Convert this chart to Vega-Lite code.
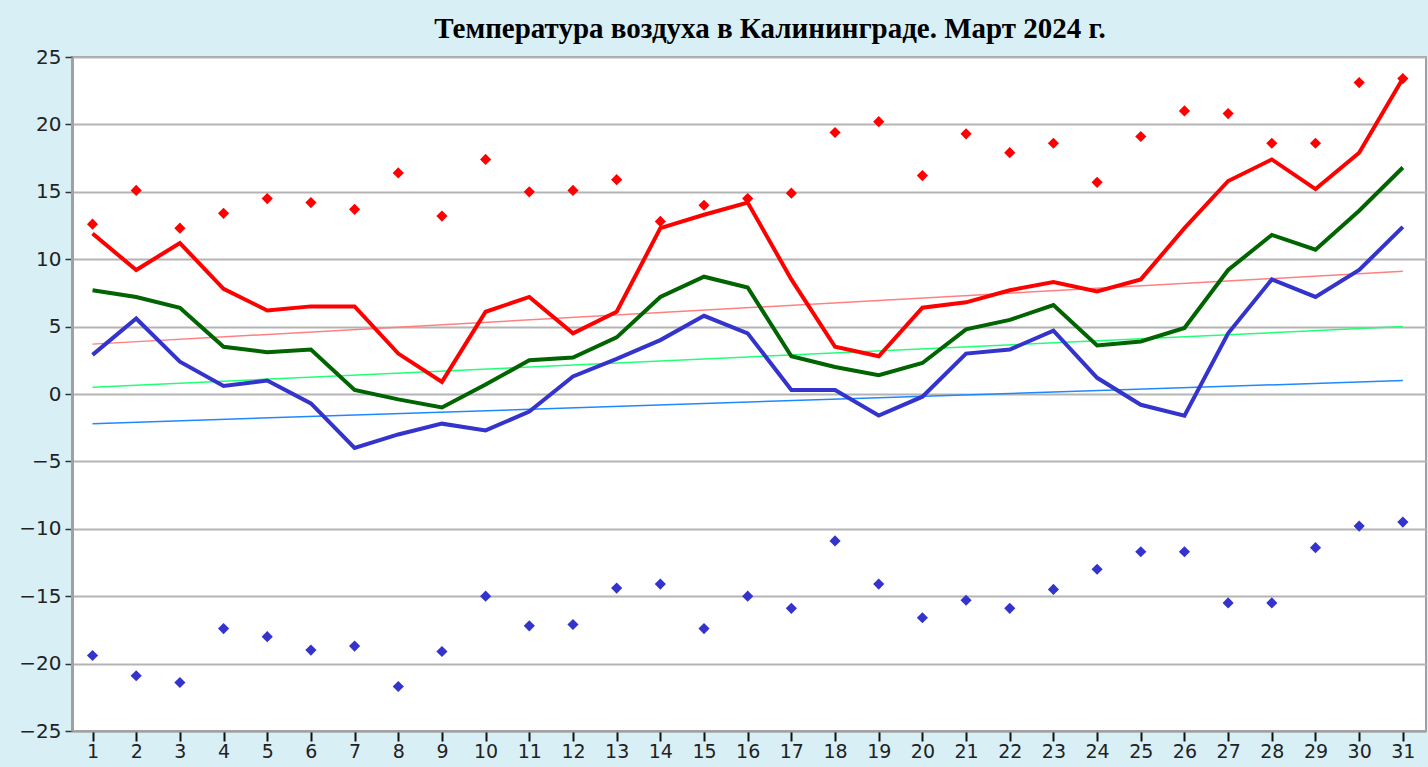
{
  "$schema": "https://vega.github.io/schema/vega-lite/v6.json",
  "autosize": {"type": "none"},
  "padding": {"left": 72, "top": 57, "right": 2, "bottom": 36},
  "width": 1354,
  "height": 674,
  "background": "#d9eff6",
  "title": {
    "text": "Температура воздуха в Калининграде. Март 2024 г.",
    "font": "Liberation Serif",
    "fontSize": 29,
    "fontWeight": "bold",
    "color": "#000000",
    "anchor": "middle",
    "frame": "group",
    "dx": 21,
    "offset": 3
  },
  "datasets": {
    "daily": [
      {"day": 1, "tmax": 11.9, "tmean": 7.7, "tmin": 2.9, "rmax": 12.6, "rmin": -19.4},
      {"day": 2, "tmax": 9.2, "tmean": 7.2, "tmin": 5.6, "rmax": 15.1, "rmin": -20.9},
      {"day": 3, "tmax": 11.2, "tmean": 6.4, "tmin": 2.4, "rmax": 12.3, "rmin": -21.4},
      {"day": 4, "tmax": 7.8, "tmean": 3.5, "tmin": 0.6, "rmax": 13.4, "rmin": -17.4},
      {"day": 5, "tmax": 6.2, "tmean": 3.1, "tmin": 1.0, "rmax": 14.5, "rmin": -18.0},
      {"day": 6, "tmax": 6.5, "tmean": 3.3, "tmin": -0.7, "rmax": 14.2, "rmin": -19.0},
      {"day": 7, "tmax": 6.5, "tmean": 0.3, "tmin": -4.0, "rmax": 13.7, "rmin": -18.7},
      {"day": 8, "tmax": 3.0, "tmean": -0.4, "tmin": -3.0, "rmax": 16.4, "rmin": -21.7},
      {"day": 9, "tmax": 0.9, "tmean": -1.0, "tmin": -2.2, "rmax": 13.2, "rmin": -19.1},
      {"day": 10, "tmax": 6.1, "tmean": 0.7, "tmin": -2.7, "rmax": 17.4, "rmin": -15.0},
      {"day": 11, "tmax": 7.2, "tmean": 2.5, "tmin": -1.3, "rmax": 15.0, "rmin": -17.2},
      {"day": 12, "tmax": 4.5, "tmean": 2.7, "tmin": 1.3, "rmax": 15.1, "rmin": -17.1},
      {"day": 13, "tmax": 6.1, "tmean": 4.2, "tmin": 2.6, "rmax": 15.9, "rmin": -14.4},
      {"day": 14, "tmax": 12.3, "tmean": 7.2, "tmin": 4.0, "rmax": 12.8, "rmin": -14.1},
      {"day": 15, "tmax": 13.3, "tmean": 8.7, "tmin": 5.8, "rmax": 14.0, "rmin": -17.4},
      {"day": 16, "tmax": 14.2, "tmean": 7.9, "tmin": 4.5, "rmax": 14.5, "rmin": -15.0},
      {"day": 17, "tmax": 8.5, "tmean": 2.8, "tmin": 0.3, "rmax": 14.9, "rmin": -15.9},
      {"day": 18, "tmax": 3.5, "tmean": 2.0, "tmin": 0.3, "rmax": 19.4, "rmin": -10.9},
      {"day": 19, "tmax": 2.8, "tmean": 1.4, "tmin": -1.6, "rmax": 20.2, "rmin": -14.1},
      {"day": 20, "tmax": 6.4, "tmean": 2.3, "tmin": -0.2, "rmax": 16.2, "rmin": -16.6},
      {"day": 21, "tmax": 6.8, "tmean": 4.8, "tmin": 3.0, "rmax": 19.3, "rmin": -15.3},
      {"day": 22, "tmax": 7.7, "tmean": 5.5, "tmin": 3.3, "rmax": 17.9, "rmin": -15.9},
      {"day": 23, "tmax": 8.3, "tmean": 6.6, "tmin": 4.7, "rmax": 18.6, "rmin": -14.5},
      {"day": 24, "tmax": 7.6, "tmean": 3.6, "tmin": 1.2, "rmax": 15.7, "rmin": -13.0},
      {"day": 25, "tmax": 8.5, "tmean": 3.9, "tmin": -0.8, "rmax": 19.1, "rmin": -11.7},
      {"day": 26, "tmax": 12.3, "tmean": 4.9, "tmin": -1.6, "rmax": 21.0, "rmin": -11.7},
      {"day": 27, "tmax": 15.8, "tmean": 9.2, "tmin": 4.5, "rmax": 20.8, "rmin": -15.5},
      {"day": 28, "tmax": 17.4, "tmean": 11.8, "tmin": 8.5, "rmax": 18.6, "rmin": -15.5},
      {"day": 29, "tmax": 15.2, "tmean": 10.7, "tmin": 7.2, "rmax": 18.6, "rmin": -11.4},
      {"day": 30, "tmax": 17.9, "tmean": 13.6, "tmin": 9.2, "rmax": 23.1, "rmin": -9.8},
      {"day": 31, "tmax": 23.4, "tmean": 16.8, "tmin": 12.4, "rmax": 23.4, "rmin": -9.5}
    ],
    "norm": [
      {"day": 1, "nmax": 3.7, "nmean": 0.5, "nmin": -2.2},
      {"day": 31, "nmax": 9.1, "nmean": 5.0, "nmin": 1.0}
    ]
  },
  "encoding": {
    "x": {
      "field": "day",
      "type": "quantitative",
      "scale": {"domain": [0.53, 31.53], "nice": false, "zero": false},
      "axis": {
        "title": null,
        "grid": false,
        "values": [1,2,3,4,5,6,7,8,9,10,11,12,13,14,15,16,17,18,19,20,21,22,23,24,25,26,27,28,29,30,31],
        "format": "d"
      }
    }
  },
  "layer": [
    {
      "data": {"name": "norm"},
      "mark": {"type": "line", "color": "#ff8080", "strokeWidth": 1.5},
      "encoding": {
        "y": {"field": "nmax", "type": "quantitative", "scale": {"domain": [-25, 25], "nice": false, "zero": false},
              "axis": {"title": null, "values": [-25,-20,-15,-10,-5,0,5,10,15,20,25], "format": "d"}}
      }
    },
    {
      "data": {"name": "norm"},
      "mark": {"type": "line", "color": "#22ff77", "strokeWidth": 1.5},
      "encoding": {
        "y": {"field": "nmean", "type": "quantitative", "scale": {"domain": [-25, 25], "nice": false, "zero": false},
              "axis": {"title": null, "values": [-25,-20,-15,-10,-5,0,5,10,15,20,25], "format": "d"}}
      }
    },
    {
      "data": {"name": "norm"},
      "mark": {"type": "line", "color": "#1e88ff", "strokeWidth": 1.5},
      "encoding": {
        "y": {"field": "nmin", "type": "quantitative", "scale": {"domain": [-25, 25], "nice": false, "zero": false},
              "axis": {"title": null, "values": [-25,-20,-15,-10,-5,0,5,10,15,20,25], "format": "d"}}
      }
    },
    {
      "data": {"name": "daily"},
      "mark": {"type": "line", "color": "#006400", "strokeWidth": 4},
      "encoding": {
        "y": {"field": "tmean", "type": "quantitative", "scale": {"domain": [-25, 25], "nice": false, "zero": false},
              "axis": {"title": null, "values": [-25,-20,-15,-10,-5,0,5,10,15,20,25], "format": "d"}}
      }
    },
    {
      "data": {"name": "daily"},
      "mark": {"type": "line", "color": "#3434cc", "strokeWidth": 4},
      "encoding": {
        "y": {"field": "tmin", "type": "quantitative", "scale": {"domain": [-25, 25], "nice": false, "zero": false},
              "axis": {"title": null, "values": [-25,-20,-15,-10,-5,0,5,10,15,20,25], "format": "d"}}
      }
    },
    {
      "data": {"name": "daily"},
      "mark": {"type": "line", "color": "#ff0000", "strokeWidth": 4},
      "encoding": {
        "y": {"field": "tmax", "type": "quantitative", "scale": {"domain": [-25, 25], "nice": false, "zero": false},
              "axis": {"title": null, "values": [-25,-20,-15,-10,-5,0,5,10,15,20,25], "format": "d"}}
      }
    },
    {
      "data": {"name": "daily"},
      "mark": {"type": "point", "shape": "diamond", "filled": true, "color": "#ff0000", "opacity": 1, "size": 125},
      "encoding": {
        "y": {"field": "rmax", "type": "quantitative", "scale": {"domain": [-25, 25], "nice": false, "zero": false},
              "axis": {"title": null, "values": [-25,-20,-15,-10,-5,0,5,10,15,20,25], "format": "d"}}
      }
    },
    {
      "data": {"name": "daily"},
      "mark": {"type": "point", "shape": "diamond", "filled": true, "color": "#3434cc", "opacity": 1, "size": 125},
      "encoding": {
        "y": {"field": "rmin", "type": "quantitative", "scale": {"domain": [-25, 25], "nice": false, "zero": false},
              "axis": {"title": null, "values": [-25,-20,-15,-10,-5,0,5,10,15,20,25], "format": "d"}}
      }
    }
  ],
  "config": {
    "view": {"stroke": "#a0a0a0", "strokeWidth": 2, "fill": "#ffffff"},
    "axis": {
      "labelFont": "DejaVu Sans",
      "labelFontSize": 20,
      "labelColor": "#222222"
    },
    "axisY": {
      "gridColor": "#b4b4b4",
      "gridWidth": 2,
      "gridOpacity": 1,
      "domainColor": "#a0a0a0",
      "domainWidth": 3,
      "tickColor": "#333333",
      "tickSize": 7,
      "tickWidth": 1.5,
      "labelPadding": 4
    },
    "axisX": {
      "domainColor": "#a0a0a0",
      "domainWidth": 2,
      "tickColor": "#111111",
      "tickSize": 10,
      "tickWidth": 2,
      "labelPadding": 1,
      "labelFontSize": 19
    }
  }
}
